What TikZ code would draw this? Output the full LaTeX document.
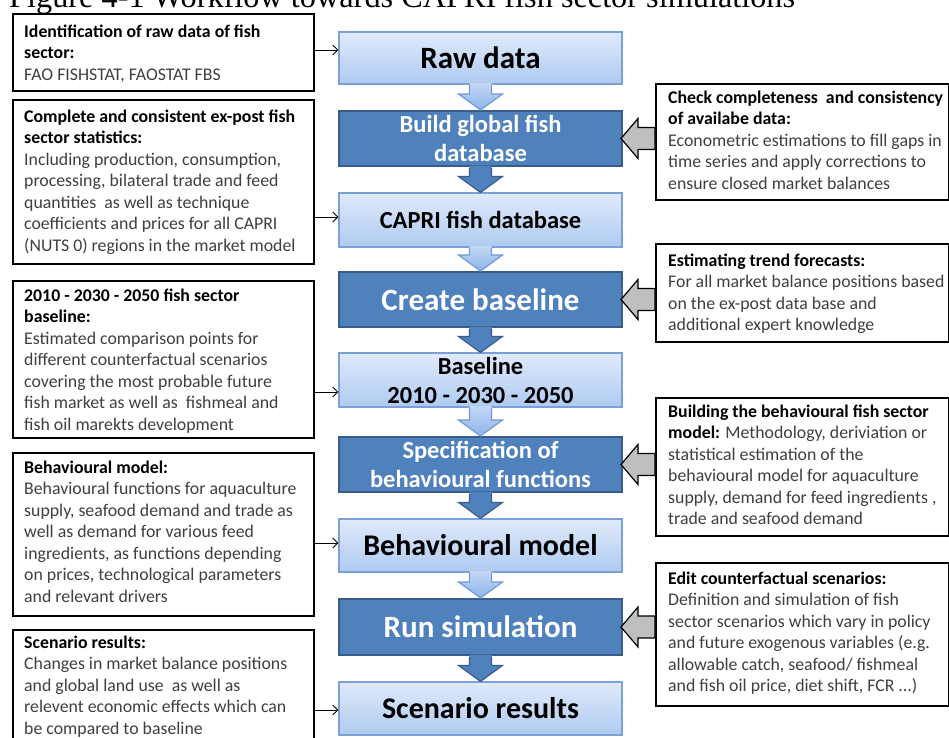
\documentclass[tikz,border=0pt]{standalone}
\usepackage{fontspec}
\setmainfont{Carlito}
\newfontfamily\titlefont{Liberation Serif}
\usetikzlibrary{arrows.meta,calc}
\definecolor{lightTop}{HTML}{E0EAFA}
\definecolor{lightBot}{HTML}{AECAF1}
\definecolor{lightBorder}{HTML}{7BA0D8}
\definecolor{arrTop}{HTML}{C4D8F5}
\definecolor{arrBot}{HTML}{8EB4EA}
\definecolor{arrBorder}{HTML}{6F9AD6}
\definecolor{darkFill}{HTML}{4F81BD}
\definecolor{darkBorder}{HTML}{385D8A}
\definecolor{bodygray}{HTML}{3F3F3F}
\definecolor{arrowgray}{HTML}{BFBFBF}
\newcommand\hd[1]{\textcolor{black}{\bfseries #1}}
\newcommand\bodysize{\fontsize{17.8}{21.5}\selectfont}
\newcommand\fr{\rule{0pt}{15pt}}
\begin{document}
\begin{tikzpicture}[x=1pt,y=-1pt,
  sidebox/.style={draw=black,line width=1.5pt,minimum width=301pt,anchor=north west,inner sep=0pt},
  rightbox/.style={draw=black,line width=1.5pt,minimum width=293pt,anchor=north west,inner sep=0pt},
  sidetext/.style={anchor=north west,inner sep=0pt,align=left,text=bodygray,font=\bodysize},
  stepbase/.style={rectangle,minimum width=283pt,inner sep=0pt,align=center},
  lightbox/.style={stepbase,draw=lightBorder,line width=1.2pt,top color=lightTop,bottom color=lightBot,text=black},
  darkbox/.style={stepbase,draw=darkBorder,line width=2pt,fill=darkFill,text=white},
  lightfill/.style={top color=arrTop,bottom color=arrBot},
  darkfill/.style={fill=darkFill},
  grayarrow/.style={draw=black,line width=1.2pt,fill=arrowgray},
  link/.style={-{Straight Barb[length=5pt,width=10pt]},line width=0.9pt}
]
\useasboundingbox (0,0) rectangle (949,737);
\clip (0,0) rectangle (949,737);
\fill[white] (0,0) rectangle (949,737);

% title (cut at top)
\node[anchor=base west,inner sep=0pt,font=\titlefont\fontsize{32.3}{32}\selectfont] (title) at (9,7) {Figure 4-1 Workflow towards CAPRI fish sector simulations};

% left boxes
\node[sidebox,minimum height=77pt] (L1) at (12,13) {};
\node[sidebox,minimum height=164pt] (L2) at (12,99) {};
\node[sidebox,minimum height=157pt] (L3) at (12,280) {};
\node[sidebox,minimum height=163pt] (L4) at (12,452) {};
\node[sidebox,minimum height=150pt] (L5) at (12,629) {};

\node[sidetext] (L1t) at (24,22) {\fr\hd{Identification of raw data of fish}\\\hd{sector:}\\FAO FISHSTAT, FAOSTAT FBS};
\node[sidetext] (L2t) at (24,107) {\fr\hd{Complete and consistent ex-post fish}\\\hd{sector statistics:}\\Including production, consumption,\\processing, bilateral trade and feed\\quantities~ as well as technique\\coefficients and prices for all CAPRI\\(NUTS 0) regions in the market model};
\node[sidetext] (L3t) at (24,286) {\fr\hd{2010 - 2030 - 2050 fish sector}\\\hd{baseline:}\\Estimated comparison points for\\different counterfactual scenarios\\covering the most probable future\\fish market as well as~ fishmeal and\\fish oil marekts development};
\node[sidetext] (L4t) at (24,458) {\fr\hd{Behavioural model:}\\Behavioural functions for aquaculture\\supply, seafood demand and trade as\\well as demand for various feed\\ingredients, as functions depending\\on prices, technological parameters\\and relevant drivers};
\node[sidetext] (L5t) at (24,633) {\fr\hd{Scenario results:}\\Changes in market balance positions\\and global land use~ as well as\\relevent economic effects which can\\be compared to baseline};

% right boxes
\node[rightbox,minimum height=116pt] (R1) at (655,83) {};
\node[rightbox,minimum height=98pt] (R2) at (655,243) {};
\node[rightbox,minimum height=138pt] (R3) at (655,397) {};
\node[rightbox,minimum height=143pt] (R4) at (655,562) {};

\node[sidetext] (R1t) at (668,88) {\fr\hd{Check completeness~ and consistency}\\\hd{of availabe data:}\\Econometric estimations to fill gaps in\\time series and apply corrections to\\ensure closed market balances};
\node[sidetext] (R2t) at (668,251) {\fr\hd{Estimating trend forecasts:}\\For all market balance positions based\\on the ex-post data base and\\additional expert knowledge};
\node[sidetext] (R3t) at (668,402) {\fr\hd{Building the behavioural fish sector}\\\hd{model:} Methodology, deriviation or\\statistical estimation of the\\behavioural model for aquaculture\\supply, demand for feed ingredients ,\\trade and seafood demand};
\node[sidetext] (R4t) at (668,569) {\fr\hd{Edit counterfactual scenarios:}\\Definition and simulation of fish\\sector scenarios which vary in policy\\and future exogenous variables (e.g.\\allowable catch, seafood/ fishmeal\\and fish oil price, diet shift, FCR ...)};

% central workflow
\node[lightbox,minimum height=52pt,font=\bfseries\fontsize{31}{37}\selectfont] (c1) at (480.5,58) {Raw data};
\node[darkbox,minimum height=55pt,font=\bfseries\fontsize{24.5}{29}\selectfont] (c2) at (480.5,138.5) {Build global fish\\database};
\node[lightbox,minimum height=54pt,font=\bfseries\fontsize{24.5}{29}\selectfont] (c3) at (480.5,220) {CAPRI fish database};
\node[darkbox,minimum height=55pt,font=\bfseries\fontsize{31}{37}\selectfont] (c4) at (480.5,299.5) {Create baseline};
\node[lightbox,minimum height=54pt,font=\bfseries\fontsize{24.5}{29}\selectfont] (c5) at (480.5,380) {Baseline\\2010 - 2030 - 2050};
\node[darkbox,minimum height=55pt,font=\bfseries\fontsize{24.5}{29}\selectfont] (c6) at (480.5,464.5) {Specification of\\behavioural functions};
\node[lightbox,minimum height=53pt,font=\bfseries\fontsize{30}{36}\selectfont] (c7) at (480.5,545.5) {Behavioural model};
\node[darkbox,minimum height=56pt,font=\bfseries\fontsize{31}{37}\selectfont] (c8) at (480.5,627) {Run simulation};
\node[lightbox,minimum height=53pt,font=\bfseries\fontsize{30}{36}\selectfont] (c9) at (480.5,708.5) {Scenario results};

% down block arrows (fill, then outline without the top edge)
\foreach \a/\b/\f/\l in {c1/c2/lightfill/arrBorder,c2/c3/darkfill/darkBorder,c3/c4/lightfill/arrBorder,c4/c5/darkfill/darkBorder,c5/c6/lightfill/arrBorder,c6/c7/darkfill/darkBorder,c7/c8/lightfill/arrBorder,c8/c9/darkfill/darkBorder}{
  \path[\f] ($(\a.south)+(-11,-1.5)$) -- ($(\b.north)+(-11,-16)$) -- ($(\b.north)+(-22,-16)$) -- (\b.north) -- ($(\b.north)+(22,-16)$) -- ($(\b.north)+(11,-16)$) -- ($(\a.south)+(11,-1.5)$) -- cycle;
  \draw[\l,line width=1.2pt,line join=miter] ($(\a.south)+(-11,0.5)$) -- ($(\b.north)+(-11,-16)$) -- ($(\b.north)+(-22,-16)$) -- (\b.north) -- ($(\b.north)+(22,-16)$) -- ($(\b.north)+(11,-16)$) -- ($(\a.south)+(11,0.5)$);
}

% gray block arrows from right boxes
\foreach \d/\r in {c2/R1,c4/R2,c6/R3,c8/R4}
  \path[grayarrow] ($(\d.east)+(-2,0)$) -- ++(17,-20) -- ++(0,9) -- ($(\r.west |- \d.east)+(0,-11)$) -- ($(\r.west |- \d.east)+(0,11)$) -- ($(\d.east)+(15,11)$) -- ++(0,9) -- cycle;

% thin links from left boxes
\coordinate (a1) at (0,50);
\coordinate (a2) at (0,217);
\coordinate (a3) at (0,392);
\coordinate (a4) at (0,543);
\coordinate (a5) at (0,710);
\draw[link] (L1.east |- a1) -- (c1.west |- a1);
\draw[link] (L2.east |- a2) -- (c3.west |- a2);
\draw[link] (L3.east |- a3) -- (c5.west |- a3);
\draw[link] (L4.east |- a4) -- (c7.west |- a4);
\draw[link] (L5.east |- a5) -- (c9.west |- a5);
\end{tikzpicture}
\end{document}
